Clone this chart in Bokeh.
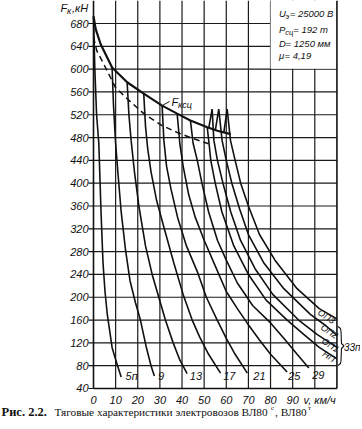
from bokeh.plotting import figure
from bokeh.models import Range1d
from bokeh.core.properties import value
from bokeh.embed import file_html
from bokeh.resources import INLINE

# ---------------- data ----------------
speed_ticks = [0, 10, 20, 30, 40, 50, 60, 70, 80, 90, 100, 110]
speed_labels = ["0", "10", "20", "30", "40", "50", "60", "70", "80", "90"]
force_ticks = [40, 80, 120, 160, 200, 240, 280, 320, 360, 400, 440, 480, 520, 560, 600, 640, 680]
force_labels = [str(f) for f in force_ticks]

# adhesion limit F_ксц (solid, thick)
adh_v = [0, 1, 3.2, 8.4, 15.2, 22.7, 31, 37.8, 43.8, 51.4, 56, 62]
adh_f = [693, 670, 644, 603, 577, 557, 536, 522, 510, 498, 492, 486]
# dashed limit
dash_v = [0, 1.5, 4.5, 9.9, 15.2, 22.7, 31, 37.8, 43.8, 52]
dash_f = [656, 632, 610, 568, 548, 522, 501, 489, 480, 469]

# running characteristics per controller position
p5_v = [0, 0.6, 1.4, 2.4, 3.4, 4.3, 5.2, 6.2, 8.4, 10.2, 12.5]
p5_f = [690, 600, 520, 470, 350, 260, 210, 171, 112, 88, 60]
p9_v = [8.4, 9, 9.9, 11, 12.5, 14.5, 16.5, 19, 21.2, 24, 26, 27.5]
p9_f = [603, 540, 475, 420, 350, 282, 229, 190, 160, 110, 80, 62]
p13_v = [15.2, 16, 17, 18.5, 20.5, 23.5, 26.5, 29.5, 32.5, 36, 39, 42.3]
p13_f = [577, 520, 475, 420, 360, 290, 240, 200, 160, 120, 90, 66]
p17_v = [22.7, 23.5, 24.5, 26, 28.5, 32, 36.3, 40.5, 44.6, 48, 52, 57.4]
p17_f = [557, 500, 460, 420, 370, 320, 260, 205, 160, 130, 100, 67]
p21_v = [31, 31.8, 33, 35, 38, 42, 46.9, 51, 55.9, 60, 64, 69.5]
p21_f = [536, 475, 430, 390, 340, 290, 245, 200, 160, 128, 100, 67]
p25_v = [37.8, 39, 40.5, 43, 46, 50, 55, 60, 65, 69.4, 75, 80, 87.5]
p25_f = [522, 470, 430, 380, 340, 300, 255, 210, 180, 155, 125, 100, 69]
p29_v = [43.8, 45, 46.9, 49, 52, 56, 60, 65, 72, 80, 86, 92, 97.3]
p29_f = [510, 470, 440, 400, 350, 300, 265, 225, 185, 155, 128, 100, 76]
np_v = [51.4, 52.2, 53, 55, 58, 63.4, 70, 78, 87.5, 95, 102, 110]
np_f = [498, 470, 440, 400, 350, 290, 240, 195, 160, 135, 112, 92]
op1_v = [52.1, 53.6, 54.4, 56, 58.5, 62, 66.4, 73, 81, 92.7, 101, 110]
op1_f = [497, 530, 475, 440, 400, 350, 300, 250, 205, 160, 135, 112]
op2_v = [55.1, 56.6, 58.1, 60, 62.5, 66, 70, 77, 86, 98, 105, 110]
op2_f = [494, 530, 475, 440, 400, 355, 310, 260, 215, 170, 150, 133]
op3_v = [58.9, 60.4, 61.9, 64, 66.5, 70, 75, 82, 92, 102, 110]
op3_f = [489, 530, 475, 440, 400, 360, 310, 265, 215, 180, 162]

pos_labels = ["5п", "9", "13", "17", "21", "25", "29"]
pos_label_v = [14.5, 29.2, 43.5, 58.6, 72.2, 88.0, 98.8]
pos_label_f = [62, 62, 62, 62, 62, 62, 64]

field_labels = ["ОП3", "ОП2", "ОП1", "НП"]
field_label_v = [105.2, 106.6, 107.0, 106.4]
field_label_f = [166, 140, 116, 96]

# ---------------- geometry (pixel placement of the chart on the canvas) ----------------
W, H = 360, 427
V0_PX, V_SCALE = 93.0, 2.213        # px of v=0, px per km/h
F680_PX, F_SCALE = 23.0, 0.5703     # px of F=680, px per kN
V_MAX, F_MIN = 110, 40


def vx(px):
    return (px - V0_PX) / V_SCALE


def fy(py):
    return 680 - (py - F680_PX) / F_SCALE


F_TOP = fy(0)

FONT = "Liberation Sans"
INK = "#111111"

p = figure(width=W, height=H, output_backend="svg", toolbar_location=None,
           x_range=Range1d(vx(0), vx(W)), y_range=Range1d(fy(H), fy(0)),
           x_axis_location=None, y_axis_location=None)
p.min_border = 0
p.min_border_left = 0
p.min_border_right = 0
p.min_border_top = 0
p.min_border_bottom = 0
p.outline_line_color = None
p.xgrid.visible = False
p.ygrid.visible = False
p.background_fill_color = "white"
p.border_fill_color = "white"

# grid (drawn from the tick arrays)
inner_v = speed_ticks[1:-1]
p.segment(x0=inner_v, y0=[F_MIN] * len(inner_v), x1=inner_v, y1=[F_TOP] * len(inner_v),
          line_color="#1a1a1a", line_width=1.2)
inner_f = force_ticks[1:]
p.segment(x0=[0] * len(inner_f), y0=inner_f, x1=[V_MAX] * len(inner_f), y1=inner_f,
          line_color="#1a1a1a", line_width=1.2)

# white parameter box over the grid
p.quad(left=[80], right=[V_MAX], bottom=[600.8], top=[F_TOP], fill_color="white", line_color=None)

# axes / frame
p.segment(x0=[0, 0, V_MAX], y0=[F_MIN, F_MIN, F_MIN], x1=[0, V_MAX, V_MAX], y1=[F_TOP, F_MIN, F_TOP],
          line_color=INK, line_width=1.6)
p.segment(x0=[0] * len(force_ticks), y0=force_ticks, x1=[vx(V0_PX - 5)] * len(force_ticks), y1=force_ticks,
          line_color=INK, line_width=1.2)

# tick labels
p.text(x=[vx(V0_PX - 5)] * len(force_ticks), y=force_ticks, text=force_labels, text_font=value(FONT),
       text_font_style="italic", text_font_size="11px", text_color=INK,
       text_align="right", text_baseline="middle")
p.text(x=speed_ticks[:len(speed_labels)], y=[fy(399)] * len(speed_labels), text=speed_labels,
       text_font=value(FONT), text_font_style="italic", text_font_size="11px", text_color=INK,
       text_align="center", text_baseline="middle")
p.text(x=[vx(303)], y=[fy(399)], text=["v, км/ч"], text_font=value(FONT), text_font_style="italic",
       text_font_size="11px", text_color=INK, text_baseline="middle")
# y axis title F_к, кН
p.text(x=[vx(60)], y=[fy(7)], text=["F"], text_font=value(FONT), text_font_style="italic",
       text_font_size="11px", text_color=INK, text_baseline="middle")
p.text(x=[vx(60)], y=[fy(7)], text=["к"], text_font=value(FONT), text_font_style="italic",
       text_font_size="9px", text_color=INK, text_baseline="middle", x_offset=6.5, y_offset=3)
p.text(x=[vx(60)], y=[fy(7)], text=[",кН"], text_font=value(FONT), text_font_style="italic",
       text_font_size="11px", text_color=INK, text_baseline="middle", x_offset=11.5)

# curves
p.line(adh_v, adh_f, line_color=INK, line_width=2.2)
p.line(dash_v, dash_f, line_color=INK, line_width=1.5, line_dash="6 4")
for vs, fs in [(p5_v, p5_f), (p9_v, p9_f), (p13_v, p13_f), (p17_v, p17_f),
               (p21_v, p21_f), (p25_v, p25_f), (p29_v, p29_f), (np_v, np_f),
               (op1_v, op1_f), (op2_v, op2_f), (op3_v, op3_f)]:
    p.line(vs, fs, line_color=INK, line_width=1.6)

# position labels
p.text(x=pos_label_v, y=pos_label_f, text=pos_labels, text_font=value(FONT),
       text_font_style="italic", text_font_size="11px", text_color=INK,
       text_align="left", text_baseline="middle")
p.text(x=field_label_v, y=field_label_f, text=field_labels, text_font=value(FONT),
       text_font_style="italic", text_font_size="9px", text_color=INK,
       text_align="center", text_baseline="middle", angle=-0.58)

# brace and 33п
bx = [vx(337.5), vx(340), vx(340.5), vx(341), vx(343.5), vx(341), vx(340.5), vx(340), vx(337.5)]
by = [fy(326), fy(328), fy(331), fy(343), fy(345.5), fy(348), fy(360), fy(363), fy(365)]
p.line(bx, by, line_color=INK, line_width=1.1)
p.text(x=[vx(343.5)], y=[fy(347)], text=["33п"], text_font=value(FONT), text_font_style="italic",
       text_font_size="10px", text_color=INK, text_baseline="middle")

# F_ксц label with leader
lx, ly = adh_v[6], adh_f[6]
p.line([lx, vx(169)], [ly, fy(101)], line_color=INK, line_width=1)
p.text(x=[vx(171)], y=[fy(101)], text=["F"], text_font=value(FONT), text_font_style="italic",
       text_font_size="11px", text_color=INK, text_baseline="middle")
p.text(x=[vx(171)], y=[fy(101)], text=["ксц"], text_font=value(FONT), text_font_style="italic",
       text_font_size="9px", text_color=INK, text_baseline="middle", x_offset=6.5, y_offset=3)

# parameter text
rows = [("U", "э", " = 25000 В", 12.5, 6.6, 10.8),
        ("P", "сц", " = 192 т", 29, 6.2, 14.2),
        ("D", "", " = 1250 мм", 42.5, 0, 6.6),
        ("μ", "", " = 4,19", 55, 0, 5.5)]
for main, sub, rest, py, sub_off, rest_off in rows:
    p.text(x=[vx(278.5)], y=[fy(py)], text=[main], text_font=value(FONT), text_font_style="italic",
           text_font_size="9.5px", text_color=INK, text_baseline="middle")
    if sub:
        p.text(x=[vx(278.5)], y=[fy(py)], text=[sub], text_font=value(FONT), text_font_style="italic",
               text_font_size="7.5px", text_color=INK, text_baseline="middle", x_offset=sub_off, y_offset=3)
    p.text(x=[vx(278.5)], y=[fy(py)], text=[rest], text_font=value(FONT), text_font_style="italic",
           text_font_size="9.5px", text_color=INK, text_baseline="middle", x_offset=rest_off)

# caption
CAP = "Liberation Serif"
p.text(x=[vx(1)], y=[fy(411)], text=["Рис. 2.2."], text_font=value(CAP), text_font_style="bold",
       text_font_size="12.5px", text_color=INK, text_baseline="middle")
p.text(x=[vx(54)], y=[fy(411)], text=["Тяговые характеристики электровозов ВЛ80"], text_font=value(CAP),
       text_font_size="11.3px", text_color=INK, text_baseline="middle")
p.text(x=[vx(270.5)], y=[fy(407.5)], text=["с"], text_font=value(CAP),
       text_font_size="7px", text_color=INK, text_baseline="middle")
p.text(x=[vx(274.5)], y=[fy(411)], text=[", ВЛ80"], text_font=value(CAP),
       text_font_size="11.3px", text_color=INK, text_baseline="middle")
p.text(x=[vx(307.5)], y=[fy(407.5)], text=["т"], text_font=value(CAP),
       text_font_size="7px", text_color=INK, text_baseline="middle")

out = open("out.html", "w")
out.write(file_html(p, INLINE))
out.close()
